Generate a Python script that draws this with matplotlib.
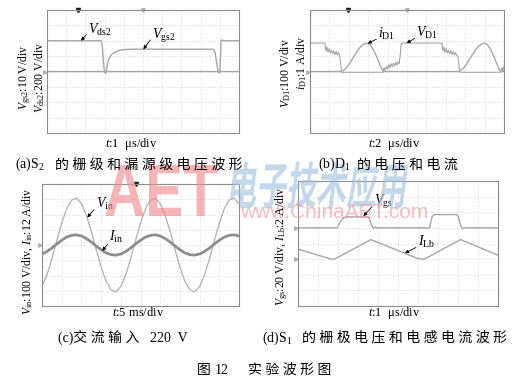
import numpy as np
import matplotlib
matplotlib.use("Agg")
import matplotlib.pyplot as plt
from matplotlib.textpath import TextPath
from matplotlib.patches import PathPatch
from matplotlib.font_manager import FontProperties
from matplotlib.transforms import Affine2D

plt.rcParams['font.family'] = ['Liberation Serif', 'Noto Sans CJK SC']
plt.rcParams['mathtext.fontset'] = 'custom'
plt.rcParams['mathtext.rm'] = 'Liberation Serif'
plt.rcParams['mathtext.it'] = 'Liberation Serif:italic'

W, H = 530, 383

# (a) S2 gate / drain-source voltage, t in us, volts
vds2_t = [0, 2.83, 2.88, 2.93, 2.98, 3.03, 3.1, 9.0, 9.03, 9.06, 9.1, 9.2, 10]
vds2_v = [400, 400, 330, 150, 20, -20, 0, 0, 150, 380, 410, 400, 400]
vgs2_t = [0, 3.0, 3.06, 3.12, 3.19, 3.28, 3.38, 3.5, 3.65, 3.8, 4.0, 4.25, 4.6,
          8.62, 8.7, 8.76, 8.82, 8.88, 8.95, 9.05, 10]
vgs2_v = [0, 0, -1, 3, 7.2, 9.5, 11.2, 12.4, 13.3, 13.8, 14.2, 14.4, 14.5,
          14.5, 14.0, 12.0, 7.0, 2.0, -1.0, 0, 0]

# (b) D1 voltage (V) and current (A), t in us
vd1_t = [0, 1.54, 1.64, 1.74, 1.86, 1.98, 2.1, 2.22, 2.34, 2.46, 2.58, 2.7, 2.82, 2.94, 3.06, 3.16, 3.26,
         7.52, 7.64, 7.76, 7.88, 8.0, 8.12, 8.24, 8.36, 8.48, 8.6, 8.72, 8.84, 8.96, 9.08, 9.2, 9.32, 9.4,
         13.6, 13.7, 13.8, 13.92, 14.04, 14.16, 14.28, 14.4, 14.52, 14.64, 14.76, 14.88, 15.0, 15.12, 15.24,
         15.34, 15.44, 19.66, 19.78, 19.9, 20.0]
vd1_v = [185, 185, 135, 160, 125, 150, 120, 140, 115, 135, 110, 130, 108, 125, 105, 50, -5,
         -5, 25, 5, 35, 15, 45, 25, 50, 30, 55, 35, 60, 40, 65, 50, 120, 185,
         185, 135, 160, 125, 150, 120, 140, 115, 135, 110, 130, 108, 125, 105, 100,
         50, -5, -5, 25, 5, 35]
id1_t = [0, 3.2, 3.4, 3.7, 4.0, 4.4, 4.8, 5.2, 5.6, 5.9, 6.2, 6.6, 7.0, 7.3, 7.5, 7.6,
         15.3, 15.5, 15.8, 16.1, 16.5, 16.9, 17.3, 17.7, 18.0, 18.3, 18.7, 19.1, 19.4, 19.6, 19.7, 20.0]
id1_v = [0, 0, 0.05, 0.2, 0.45, 0.85, 1.25, 1.6, 1.8, 1.85, 1.75, 1.35, 0.75, 0.3, 0.05, 0,
         0, 0.05, 0.2, 0.45, 0.85, 1.25, 1.6, 1.8, 1.85, 1.75, 1.35, 0.75, 0.3, 0.05, 0, 0]

# (c) AC input 220 V, t in ms
ac_t = [0, 1.25, 2.5, 3.75, 5, 6.25, 7.5, 8.75, 10, 11.25, 12.5, 13.75, 15, 16.25, 17.5, 18.75,
        20, 21.25, 22.5, 23.75, 25, 26.25, 27.5, 28.75, 30, 31.25, 32.5, 33.75, 35, 36.25, 37.5, 38.75,
        40, 41.25, 42.5, 43.75, 45, 46.25, 47.5, 48.75, 50]
vin = [-272, -196, -91, 29, 144, 237, 294, 307, 272, 196, 91, -29, -144, -237, -294, -307,
       -272, -196, -91, 29, 144, 237, 294, 307, 272, 196, 91, -29, -144, -237, -294, -307,
       -272, -196, -91, 29, 144, 237, 294, 307, 272]
iin = [-7.1, -5.1, -2.4, 0.8, 3.7, 6.2, 7.6, 8.0, 7.1, 5.1, 2.4, -0.8, -3.7, -6.2, -7.6, -8.0,
       -7.1, -5.1, -2.4, 0.8, 3.7, 6.2, 7.6, 8.0, 7.1, 5.1, 2.4, -0.8, -3.7, -6.2, -7.6, -8.0,
       -7.1, -5.1, -2.4, 0.8, 3.7, 6.2, 7.6, 8.0, 7.1]

# (d) S1 gate voltage (V) and inductor current (A), t in us
vgs_t = [0, 1.95, 2.02, 2.1, 2.2, 2.3, 2.45, 3.52, 3.58, 3.65, 3.72, 3.78, 3.85, 3.95,
         6.58, 6.63, 6.7, 6.8, 7.95, 8.02, 8.1, 8.17, 8.22, 8.3, 10]
vgs_v = [0, 0, 3, 7, 11, 13, 14, 14, 11, 5, 1, -1, 1, 0,
         0, 6, 14, 17, 17, 14, 6, 1, -1, 0, 0]
ilb_t = [0, 1.45, 1.65, 1.85, 3.65, 5.9, 6.15, 6.35, 8.13, 10]
ilb_v = [1.28, 0.16, 0.0, 0.04, 2.5, 0.16, 0.0, 0.04, 2.5, 0.5]

TRACE = '#a6a6a6'

fig = plt.figure(figsize=(W / 100, H / 100), dpi=100)


def scope(x0, y0, x1, y1):
    ax = fig.add_axes([x0 / W, 1 - y1 / H, (x1 - x0) / W, (y1 - y0) / H])
    ax.set_xlim(0, 10)
    ax.set_ylim(-4, 4)
    ax.set_xticks(range(11))
    ax.set_yticks(range(-4, 5))
    ax.tick_params(length=0, labelbottom=False, labelleft=False)
    ax.grid(color='#bdbdbd', lw=0.5, ls=(0, (1, 2.5)))
    for s in ax.spines.values():
        s.set_color('#8c8c8c')
        s.set_linewidth(0.8)
    return ax


def trace(ax, t, v, tdiv, vdiv, off=0, **kw):
    kw.setdefault('color', TRACE)
    kw.setdefault('lw', 1.0)
    ax.plot(np.array(t) / tdiv, np.array(v) / vdiv + off, **kw)


def tag(ax, text, pos, tail, tip):
    ax.text(pos[0], pos[1], text, fontsize=10, va='baseline', ha='left')
    ax.annotate('', xy=tip, xytext=tail,
                arrowprops=dict(arrowstyle='-|>', lw=0.6, color='k',
                                mutation_scale=5, shrinkA=0, shrinkB=0))


def marks(ax, trig=None, center=True, grounds=(0,)):
    if trig is not None:
        ax.plot(trig, 4, marker='v', ms=3, color='#222222', clip_on=False)
    if center:
        ax.plot(5, 4, marker='v', ms=2.5, color='#b0b0b0', clip_on=False)
    for g in grounds:
        ax.plot(-0.12, g, marker='>', ms=2.5, color='#b0b0b0', clip_on=False)


# (a)
ax = scope(47, 10, 239, 133)
trace(ax, vds2_t, vds2_v, 1, 200)
trace(ax, vgs2_t, vgs2_v, 1, 10)
marks(ax, trig=1.61)
tag(ax, r'$V_{\mathrm{ds2}}$', (2.14, 2.45), (2.05, 2.4), (1.77, 2.0))
tag(ax, r'$V_{\mathrm{gs2}}$', (5.45, 2.12), (5.38, 2.05), (5.02, 1.45))

# (b)
ax = scope(310, 10, 504, 133)
trace(ax, vd1_t, vd1_v, 2, 100, lw=0.8)
trace(ax, id1_t, id1_v, 2, 1)
marks(ax, trig=1.97)
tag(ax, r'$i_{\mathrm{D1}}$', (3.49, 2.2), (3.42, 2.1), (2.97, 1.82))
tag(ax, r'$V_{\mathrm{D1}}$', (5.46, 2.23), (5.4, 2.15), (4.98, 1.85))

# (c)
ax = scope(42, 184, 239, 306)
trace(ax, ac_t, vin, 5, 100, color='#b0b0b0', lw=0.9)
trace(ax, ac_t, iin, 5, 12, color='#8e8e8e', lw=2.0)
marks(ax, trig=4.75, center=False)
tag(ax, r'$V_{\mathrm{in}}$', (2.76, 2.45), (2.62, 2.3), (2.3, 1.8))
tag(ax, r'$I_{\mathrm{in}}$', (3.4, 0.26), (3.33, 0.05), (3.06, -0.38))

# (d)
ax = scope(298, 181, 498, 306)
trace(ax, vgs_t, vgs_v, 1, 20, off=1)
trace(ax, ilb_t, ilb_v, 1, 2, off=-1)
marks(ax, center=False, grounds=(1, -1))
tag(ax, r'$V_{\mathrm{gs}}$', (3.82, 2.45), (3.7, 2.35), (3.27, 1.75))
tag(ax, r'$I_{\mathrm{Lb}}$', (6.02, -0.18), (5.9, -0.25), (5.35, -0.62))

# overlay in pixel coordinates for texts and watermark
ov = fig.add_axes([0, 0, 1, 1])
ov.set_xlim(0, W)
ov.set_ylim(H, 0)
ov.axis('off')

# watermark
aet = TextPath((0, 0), 'AET', size=1, prop=FontProperties(family='Liberation Sans', weight='bold'))
ov.add_patch(PathPatch(aet, transform=Affine2D().scale(57, -74).translate(104, 216) + ov.transData,
                       facecolor='#f08e90', edgecolor='none', alpha=0.65, zorder=1))
logo = TextPath((0, 0), '电子技术应用', size=1, prop=FontProperties(family='Noto Sans CJK SC', weight='bold'))
ov.add_patch(PathPatch(logo, transform=Affine2D().skew_deg(12, 0).scale(30, -50).translate(226, 204) + ov.transData,
                       facecolor='#9dbfdf', edgecolor='none', alpha=0.6, zorder=1))
ov.text(240, 218, 'www.ChinaAET.com', family='Liberation Sans', fontsize=15,
        color='#f08e90', alpha=0.6, va='baseline', zorder=1)

# axis texts
ylab = dict(rotation=90, ha='center', va='center', fontsize=8.5, zorder=3)
ov.text(25, 77.5, r'$V_{\mathrm{gs2}}$:10 V/div', **ylab)
ov.text(40, 77.5, r'$V_{\mathrm{ds2}}$:200 V/div', **ylab)
ov.text(286, 72.5, r'$V_{\mathrm{D1}}$:100 V/div', **ylab)
ov.text(302, 63, r'$i_{\mathrm{D1}}$:1 A/div', **ylab)
ov.text(27.5, 251, r'$V_{\mathrm{in}}$:100 V/div, $I_{\mathrm{in}}$:12 A/div', **ylab)
ov.text(282, 246.5, r'$V_{\mathrm{gs}}$:20 V/div, $I_{\mathrm{Lb}}$:2 A/div', **ylab)

xlab = dict(ha='left', va='baseline', fontsize=9, zorder=3)
ov.text(105, 146.5, r'$t$:1  μs/div', **xlab)
ov.text(368, 146.5, r'$t$:2  μs/div', **xlab)
ov.text(112, 316, r'$t$:5 ms/div', **xlab)
ov.text(368, 316, r'$t$:1  μs/div', **xlab)

cap = dict(ha='left', va='baseline', fontsize=10, zorder=3)
ov.text(15, 168, r'(a)$\mathrm{S}_2$', **cap)
ov.text(55, 168, '的 栅 级 和 漏 源 级 电 压 波 形', **cap)
ov.text(318, 168, r'(b)$\mathrm{D}_1$', **cap)
ov.text(357, 168, '的 电 压 和 电 流', **cap)
ov.text(58, 341.5, '(c)交 流 输 入', **cap)
ov.text(150, 341.5, '220  V', **cap)
ov.text(262, 341.5, r'(d)$\mathrm{S}_1$', **cap)
ov.text(302, 341.5, '的 栅 极 电 压 和 电 感 电 流 波 形', **cap)
ov.text(197, 374, '图', **cap)
ov.text(215, 374, '12', **cap)
ov.text(248, 374, '实 验 波 形 图', **cap)

fig.savefig('out.png', dpi=100)
